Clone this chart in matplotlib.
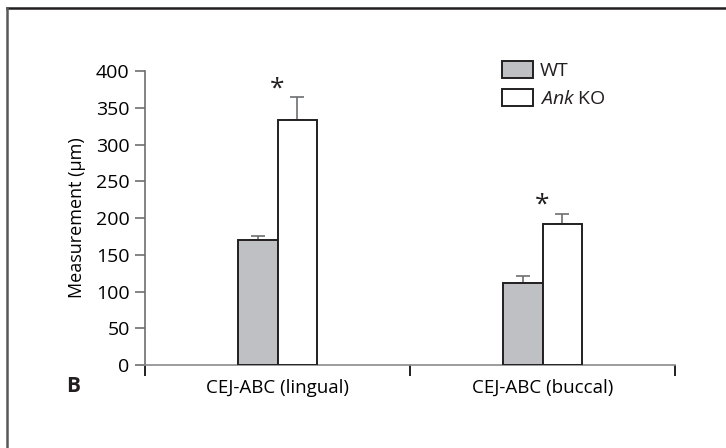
import matplotlib
matplotlib.use("Agg")
import matplotlib.pyplot as plt
from matplotlib.patches import Patch
from matplotlib.lines import Line2D

# datos
categorias = ["CEJ-ABC (lingual)", "CEJ-ABC (buccal)"]
grupos = ["WT", "$\\mathit{Ank}$ KO"]
wt_media = [170, 112]
wt_err = [5, 9]
ko_media = [333, 192]
ko_err = [32, 14]
significativo = [True, True]
yticks = [0, 50, 100, 150, 200, 250, 300, 350, 400]

plt.rcParams["font.family"] = ["Open Sans", "DejaVu Sans"]
plt.rcParams["mathtext.fontset"] = "custom"
plt.rcParams["mathtext.it"] = "Open Sans:italic"
plt.rcParams["text.color"] = "#231f20"

fig = plt.figure(figsize=(7.26, 4.48), dpi=100)
ax = fig.add_axes([145 / 726, 1 - 365 / 448, 530 / 726, 294 / 448])

ancho = 0.15
centros = [0.5, 1.5]
x_wt = [c - ancho / 2 for c in centros]
x_ko = [c + ancho / 2 for c in centros]

ax.bar(x_wt, wt_media, width=ancho, color="#bfc0c4", edgecolor="#231f20", linewidth=1.4, zorder=3)
ax.bar(x_ko, ko_media, width=ancho, color="white", edgecolor="#231f20", linewidth=1.4, zorder=3)
# solo la parte de arriba del error
ax.errorbar(x_wt, wt_media, yerr=[[0] * len(wt_err), wt_err], fmt="none", ecolor="#6d6e71",
            elinewidth=1.2, capsize=5, capthick=1.2, zorder=2)
ax.errorbar(x_ko, ko_media, yerr=[[0] * len(ko_err), ko_err], fmt="none", ecolor="#6d6e71",
            elinewidth=1.2, capsize=5, capthick=1.2, zorder=2)

# asteriscos
for c, m, e, s in zip(centros, ko_media, ko_err, significativo):
    if s:
        ax.text(c, m + e + 11, "*", ha="center", va="center", fontsize=19)

ax.set_xlim(0, 2)
ax.set_ylim(0, 400)
ax.set_yticks(yticks)
ax.set_xticks([0, 1, 2])
ax.set_xticklabels([])
ax.set_xticks(centros, minor=True)
ax.set_xticklabels(categorias, minor=True, fontsize=13.5)
ax.tick_params(axis="x", which="minor", length=0, pad=10)
ax.tick_params(axis="x", which="major", length=8, width=1.4, color="#231f20")
ax.tick_params(axis="y", length=7, width=1.2, color="#6d6e71", pad=4, labelsize=14)

for lado in ["top", "right"]:
    ax.spines[lado].set_visible(False)
ax.spines["left"].set_color("#6d6e71")
ax.spines["bottom"].set_color("#8a8b8e")
ax.spines["left"].set_linewidth(1.2)
ax.spines["bottom"].set_linewidth(1.2)

ax.set_ylabel("Measurement (\u00b5m)", fontsize=13, labelpad=7)

manijas = [Patch(facecolor="#bfc0c4", edgecolor="#231f20", linewidth=1.4),
           Patch(facecolor="white", edgecolor="#231f20", linewidth=1.4)]
fig.legend(manijas, grupos, loc="upper left", bbox_to_anchor=(502 / 726, 1 - 61 / 448),
           frameon=False, fontsize=14, handlelength=1.6, handleheight=0.95,
           handletextpad=0.35, labelspacing=0.45, borderpad=0, borderaxespad=0)

fig.text(73 / 726, 1 - 386 / 448, "B", fontsize=15, fontweight="bold", ha="center", va="center")

# marco de la figura (solo arriba e izquierda)
fig.add_artist(Line2D([7 / 726, 1], [1 - 8 / 448, 1 - 8 / 448], transform=fig.transFigure,
                      color="#231f20", linewidth=1.8))
fig.add_artist(Line2D([7 / 726, 7 / 726], [0, 1 - 8 / 448], transform=fig.transFigure,
                      color="#58595b", linewidth=1.8))

fig.savefig("out.png", dpi=100)
